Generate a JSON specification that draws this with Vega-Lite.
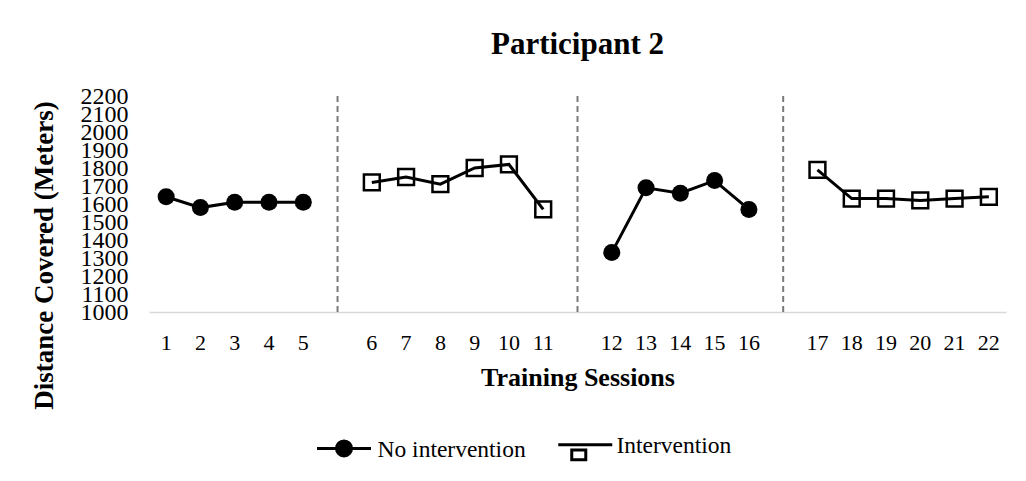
{
  "$schema": "https://vega.github.io/schema/vega-lite/v6.json",
  "autosize": "none",
  "width": 857,
  "height": 216,
  "padding": {"left": 149, "top": 96, "right": 20, "bottom": 169},
  "background": "white",
  "title": {"text": "Participant 2", "font": "Liberation Serif", "fontSize": 31, "fontWeight": "bold", "color": "black", "anchor": "middle", "offset": 23},
  "datasets": {
    "sessions": [
      {"session": "1", "distance": 1640, "type": "No intervention", "phase": "A1"},
      {"session": "2", "distance": 1580, "type": "No intervention", "phase": "A1"},
      {"session": "3", "distance": 1610, "type": "No intervention", "phase": "A1"},
      {"session": "4", "distance": 1610, "type": "No intervention", "phase": "A1"},
      {"session": "5", "distance": 1610, "type": "No intervention", "phase": "A1"},
      {"session": "6", "distance": 1720, "type": "Intervention", "phase": "B1"},
      {"session": "7", "distance": 1750, "type": "Intervention", "phase": "B1"},
      {"session": "8", "distance": 1710, "type": "Intervention", "phase": "B1"},
      {"session": "9", "distance": 1800, "type": "Intervention", "phase": "B1"},
      {"session": "10", "distance": 1820, "type": "Intervention", "phase": "B1"},
      {"session": "11", "distance": 1570, "type": "Intervention", "phase": "B1"},
      {"session": "12", "distance": 1330, "type": "No intervention", "phase": "A2"},
      {"session": "13", "distance": 1690, "type": "No intervention", "phase": "A2"},
      {"session": "14", "distance": 1660, "type": "No intervention", "phase": "A2"},
      {"session": "15", "distance": 1730, "type": "No intervention", "phase": "A2"},
      {"session": "16", "distance": 1570, "type": "No intervention", "phase": "A2"},
      {"session": "17", "distance": 1790, "type": "Intervention", "phase": "B2"},
      {"session": "18", "distance": 1630, "type": "Intervention", "phase": "B2"},
      {"session": "19", "distance": 1630, "type": "Intervention", "phase": "B2"},
      {"session": "20", "distance": 1620, "type": "Intervention", "phase": "B2"},
      {"session": "21", "distance": 1630, "type": "Intervention", "phase": "B2"},
      {"session": "22", "distance": 1640, "type": "Intervention", "phase": "B2"}
    ],
    "dividers": [
      {"session": "g1"},
      {"session": "g2"},
      {"session": "g3"}
    ]
  },
  "layer": [
    {
      "data": {"name": "dividers"},
      "mark": {"type": "rule", "color": "#7a7a7a", "strokeWidth": 2, "strokeDash": [6, 4]},
      "encoding": {
        "x": {"field": "session", "type": "ordinal"}
      }
    },
    {
      "data": {"name": "sessions"},
      "mark": {"type": "line", "color": "black", "strokeWidth": 3},
      "encoding": {
        "x": {
          "field": "session", "type": "ordinal",
          "scale": {"domain": ["1","2","3","4","5","g1","6","7","8","9","10","11","g2","12","13","14","15","16","g3","17","18","19","20","21","22"]},
          "axis": {"title": "Training Sessions"}
        },
        "y": {
          "field": "distance", "type": "quantitative",
          "scale": {"domain": [1000, 2200], "nice": false, "zero": false},
          "axis": {
            "title": "Distance Covered (Meters)",
            "values": [1000,1100,1200,1300,1400,1500,1600,1700,1800,1900,2000,2100,2200],
            "tickCount": 20
          }
        },
        "detail": {"field": "phase"}
      }
    },
    {
      "data": {"name": "sessions"},
      "transform": [{"filter": "datum.type === 'No intervention'"}],
      "mark": {"type": "point", "shape": "circle", "filled": true, "color": "black", "size": 290, "opacity": 1},
      "encoding": {
        "x": {"field": "session", "type": "ordinal"},
        "y": {"field": "distance", "type": "quantitative"}
      }
    },
    {
      "data": {"name": "sessions"},
      "transform": [{"filter": "datum.type === 'Intervention'"}],
      "mark": {"type": "point", "shape": "square", "filled": false, "color": "black", "strokeWidth": 2.5, "size": 250, "opacity": 1},
      "encoding": {
        "x": {"field": "session", "type": "ordinal"},
        "y": {"field": "distance", "type": "quantitative"}
      }
    },
    {
      "data": {"name": "sessions"},
      "transform": [{"filter": "datum.type === 'legend-only'"}],
      "mark": {"type": "point", "strokeWidth": 3, "opacity": 1},
      "encoding": {
        "shape": {
          "field": "type", "type": "nominal",
          "scale": {"domain": ["No intervention", "Intervention"], "range": ["M-3.3,-0.2H3.9M1.3,-0.2A1,1 0 1,1 -0.7,-0.2A1,1 0 1,1 1.3,-0.2Z", "M-3.0,-0.2H4.2M-1.2,0.5H0.67V1.8H-1.2Z"]},
          "legend": {"title": null}
        },
        "fill": {
          "field": "type", "type": "nominal",
          "scale": {"domain": ["No intervention", "Intervention"], "range": ["black", "white"]},
          "legend": {"title": null}
        },
        "stroke": {
          "field": "type", "type": "nominal",
          "scale": {"domain": ["No intervention", "Intervention"], "range": ["black", "black"]},
          "legend": {"title": null}
        }
      }
    }
  ],
  "config": {
    "view": {"stroke": null},
    "axisX": {
      "labelAngle": 0, "labelAlign": "center", "labelBaseline": "top",
      "labelExpr": "indexof(datum.value, 'g') === 0 ? '' : datum.value",
      "labelFont": "Liberation Serif", "labelFontSize": 22, "labelColor": "black", "labelPadding": 20,
      "labelOverlap": false,
      "ticks": false, "tickSize": 0,
      "domainColor": "#d9d9d9", "domainWidth": 1.5,
      "grid": false,
      "titleFont": "Liberation Serif", "titleFontSize": 26, "titleFontWeight": "bold", "titleColor": "black",
      "titleBaseline": "alphabetic", "titleY": 73
    },
    "axisY": {
      "format": "d",
      "labelFont": "Liberation Serif", "labelFontSize": 24, "labelColor": "black", "labelPadding": 21,
      "labelOverlap": false, "labelFlush": false, "labelBound": false,
      "ticks": false, "tickSize": 0, "domain": false, "grid": false,
      "titleFont": "Liberation Serif", "titleFontSize": 27, "titleFontWeight": "bold", "titleColor": "black",
      "titleBaseline": "alphabetic", "titleX": -97, "titleY": 159, "titleAngle": 270
    },
    "legend": {
      "orient": "none", "legendX": 181, "legendY": 338, "direction": "horizontal",
      "labelFont": "Liberation Serif", "labelFontSize": 23.5, "labelColor": "black",
      "labelOffset": 24, "columnPadding": 26, "symbolSize": 225, "symbolStrokeWidth": 3,
      "padding": 0
    }
  }
}
